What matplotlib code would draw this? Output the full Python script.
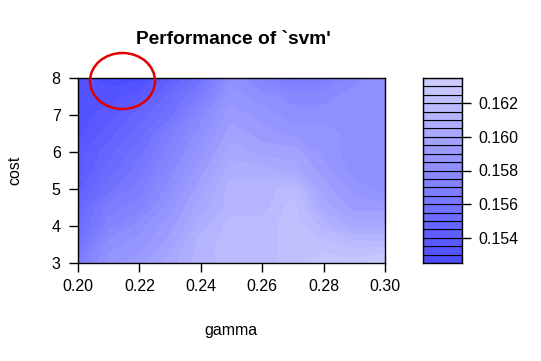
import numpy as np
import matplotlib
matplotlib.use("Agg")
import matplotlib.pyplot as plt
import matplotlib.colors as mcolors
from matplotlib.patches import Ellipse

plt.rcParams['font.family'] = ['Liberation Sans', 'DejaVu Sans']

# tuning grid
gamma = [0.20, 0.21, 0.22, 0.23, 0.24, 0.25, 0.26, 0.27, 0.28, 0.29, 0.30]
cost = [3.0, 3.5, 4.0, 4.5, 5.0, 5.5, 6.0, 6.5, 7.0, 7.5, 8.0]

# cross-validation error, rows = cost (3 -> 8), cols = gamma
err_c3_0 = [0.15675, 0.15875, 0.15925, 0.16025, 0.16125, 0.16175, 0.16175, 0.16225, 0.16275, 0.16275, 0.16325]
err_c3_5 = [0.15575, 0.15825, 0.15875, 0.15975, 0.16125, 0.16175, 0.16175, 0.16225, 0.16225, 0.16175, 0.16175]
err_c4_0 = [0.15525, 0.15725, 0.15825, 0.15925, 0.16075, 0.16175, 0.16175, 0.16225, 0.16125, 0.16025, 0.16025]
err_c4_5 = [0.15475, 0.15675, 0.15725, 0.15875, 0.16025, 0.16125, 0.16125, 0.16225, 0.16025, 0.15925, 0.15925]
err_c5_0 = [0.15425, 0.15575, 0.15675, 0.15825, 0.15975, 0.16125, 0.16125, 0.16175, 0.15975, 0.15875, 0.15825]
err_c5_5 = [0.15375, 0.15525, 0.15625, 0.15775, 0.15925, 0.16075, 0.16075, 0.16025, 0.15925, 0.15825, 0.15825]
err_c6_0 = [0.15375, 0.15475, 0.15575, 0.15725, 0.15875, 0.16025, 0.15975, 0.15975, 0.15875, 0.15825, 0.15825]
err_c6_5 = [0.15325, 0.15425, 0.15525, 0.15675, 0.15825, 0.15975, 0.15925, 0.15875, 0.15875, 0.15825, 0.15825]
err_c7_0 = [0.15325, 0.15375, 0.15475, 0.15575, 0.15775, 0.15925, 0.15875, 0.15825, 0.15825, 0.15825, 0.15825]
err_c7_5 = [0.15325, 0.15325, 0.15375, 0.15525, 0.15675, 0.15875, 0.15825, 0.15775, 0.15775, 0.15825, 0.15825]
err_c8_0 = [0.15325, 0.15275, 0.15275, 0.15425, 0.15575, 0.15825, 0.15725, 0.15625, 0.15675, 0.15775, 0.15825]

err = np.array([err_c3_0, err_c3_5, err_c4_0, err_c4_5, err_c5_0, err_c5_5,
                err_c6_0, err_c6_5, err_c7_0, err_c7_5, err_c8_0])

levels = np.arange(0.1525, 0.16351, 0.0005)
nlev = len(levels) - 1
# hsv palette h=2/3, s 0.7 -> 0.2, v=1
sat = np.linspace(0.7, 0.2, nlev)
cols = [mcolors.hsv_to_rgb((2/3, s, 1.0)) for s in sat]

W, H = 541, 361
fig = plt.figure(figsize=(W/100, H/100), dpi=100)
ax = fig.add_axes([78/W, 1-263/H, (385-78)/W, (263-78)/H])
cax = fig.add_axes([423/W, 1-263/H, (462-423)/W, (263-78)/H])

G, C = np.meshgrid(gamma, cost)
cs = ax.contourf(G, C, err, levels=levels, colors=cols)
cs.set_edgecolor('face')
cs.set_linewidth(0.4)
ax.set_xlim(0.20, 0.30)
ax.set_ylim(3, 8)
ax.set_xticks([0.20, 0.22, 0.24, 0.26, 0.28, 0.30])
ax.set_xticklabels(['0.20', '0.22', '0.24', '0.26', '0.28', '0.30'])
ax.set_yticks([3, 4, 5, 6, 7, 8])
ax.tick_params(labelsize=11.5, length=6.5, width=1, direction='out', pad=5)
ax.tick_params(axis='y', pad=6)
for s in ax.spines.values():
    s.set_linewidth(1)

# legend strip
for i in range(nlev):
    cax.fill_between([0, 1], levels[i], levels[i+1], facecolor=cols[i],
                     edgecolor='black', linewidth=0.8)
cax.set_xlim(0, 1)
cax.set_ylim(levels[0], levels[-1])
cax.set_xticks([])
cax.yaxis.tick_right()
cax.set_yticks([0.154, 0.156, 0.158, 0.160, 0.162])
cax.set_yticklabels(['0.154', '0.156', '0.158', '0.160', '0.162'])
cax.tick_params(labelsize=11.5, length=6.5, width=1, direction='out', pad=5)
for s in cax.spines.values():
    s.set_linewidth(1)

fig.text(233/W, 1-40/H, "Performance of `svm'", fontsize=13.8, fontweight='bold',
         ha='center', va='center')
fig.text(231/W, 1-330/H, 'gamma', fontsize=11.5, ha='center', va='center')
fig.text(15/W, 1-170/H, 'cost', fontsize=11.5, ha='center', va='center', rotation=90)

# hand-drawn red marker around the best region
ell = Ellipse((122.5/W, 1-81/H), 65/W, 56/H, transform=fig.transFigure,
              fill=False, edgecolor='#e00000', linewidth=1.8)
fig.patches.append(ell)

fig.savefig('out.png', dpi=100)
